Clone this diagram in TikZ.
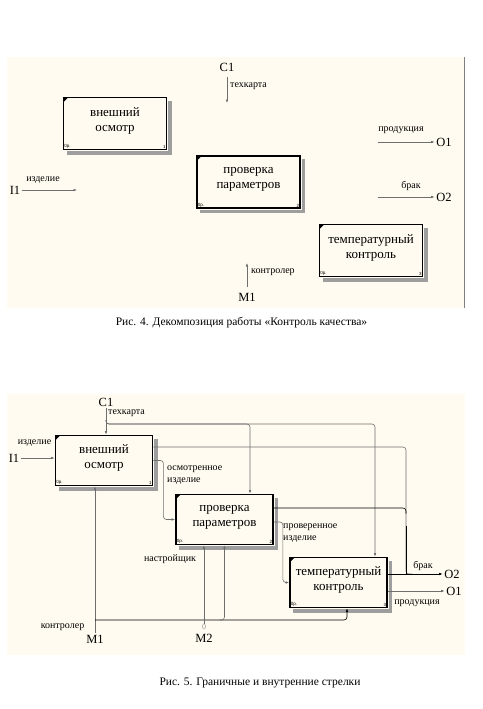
\documentclass[tikz,border=0pt]{standalone}
\usepackage{fontspec}
\setmainfont{Liberation Serif}
\newfontfamily\cornerfont{Liberation Sans}
\usetikzlibrary{arrows.meta,positioning,calc,patterns}
\definecolor{cream}{RGB}{255,251,240}
\definecolor{wire}{RGB}{110,110,110}
\tikzset{
  actbox/.style={
    rectangle, draw=black, line width=1.8pt, fill=cream,
    align=center, font=\fontsize{13}{15}\selectfont, inner sep=0pt,
    text depth=8pt,
    path picture={\fill[black] (path picture bounding box.north west)
      -- ++(4.5pt,0) -- ++(-4.5pt,-4.5pt) -- cycle;}
  },
  topsize/.style={minimum width=103pt, minimum height=52pt},
  botsize/.style={minimum width=97pt, minimum height=50pt},
  shade/.style={fill=black!38},
  corner/.style={font=\cornerfont\fontsize{4.5}{5}\selectfont, inner sep=1.5pt},
  actnum/.style={
    label={[corner, anchor=south west]south west:0р.},
    label={[corner, anchor=south east]south east:#1}
  },
  bnd/.style={font=\fontsize{12.5}{14}\selectfont, inner sep=1.5pt},
  lbl/.style={font=\fontsize{10}{12}\selectfont, inner sep=0pt, align=left},
  figcap/.style={font=\fontsize{11.5}{13}\selectfont, inner sep=0pt},
  tunl/.style={font=\cornerfont\fontsize{6}{6}\selectfont, text=gray, inner sep=0.5pt},
  ln/.style={draw=wire, line width=0.6pt},
  arr/.style={ln, -{Latex[length=3.5pt,width=2.6pt]}},
}
\begin{document}
\begin{tikzpicture}[x=1pt, y=-1pt]
  \useasboundingbox (0,0) rectangle (482,709);
  \fill[white] (0,0) rectangle (482,709);

  % ---- Fig. 4: decomposition ----
  \fill[cream] (7,57) rectangle (464,308);
  \draw[gray, line width=0.8pt] (464,57) -- (464,308);

  \node[actbox, topsize, actnum=1] (ta1) at (115,123.5) {внешний\\осмотр};
  \node[actbox, topsize, actnum=2] (ta2) at (248.5,182) {проверка\\параметров};
  \node[actbox, topsize, actnum=3] (ta3) at (371,250.5) {температурный\\контроль};

  \node[bnd] (tc1) at (227,67) {C1};
  \coordinate (tc1end) at (227,103);
  \draw[arr] ([yshift=-4pt]tc1.south) -- (tc1end);
  \node[lbl, anchor=west] (ttk) at (230,86) {техкарта};

  \node[bnd] (ti1) at (15,190) {I1};
  \coordinate (ti1end) at (77,190);
  \draw[arr] (ti1.east) -- (ti1end);
  \node[lbl] (tizd) at (43,180) {изделие};

  \node[bnd] (to1) at (444,142) {O1};
  \coordinate (to1start) at (378,142);
  \draw[arr] (to1start) -- (to1.west);
  \node[lbl] (tprod) at (401,130) {продукция};

  \node[bnd] (to2) at (444,197) {O2};
  \coordinate (to2start) at (378,197);
  \draw[arr] (to2start) -- (to2.west);
  \node[lbl] (tbrak) at (411,186) {брак};

  \node[bnd] (tm1) at (247,297) {M1};
  \coordinate (tm1end) at (247,263);
  \draw[arr] ([yshift=4pt]tm1.north) -- (tm1end);
  \node[lbl, anchor=west] (tktr) at (251,272) {контролер};

  \node[figcap] (cap4) at (241.5,323) {Рис. 4. Декомпозиция работы «Контроль качества»};

  % ---- Fig. 5: boundary and internal arrows ----
  \fill[cream] (7,394) rectangle (465,655);

  \node[actbox, botsize, actnum=1] (ba1) at (104,460.5) {внешний\\осмотр};
  \node[actbox, botsize, actnum=2] (ba2) at (224.5,519.5) {проверка\\параметров};
  \node[actbox, botsize, actnum=3] (ba3) at (338.5,582.5) {температурный\\контроль};

  % hatched shadows of the boxes
  \foreach \b in {ta1,ta2,ta3,ba1,ba2,ba3}{
    \fill[shade] ([xshift=0.9pt,yshift=-4pt]\b.north east) rectangle ([xshift=4.5pt,yshift=-4.5pt]\b.south east);
    \fill[shade] ([xshift=4pt,yshift=-0.9pt]\b.south west) rectangle ([xshift=4.5pt,yshift=-4.5pt]\b.south east);
  }

  % control
  \node[bnd] (bc1) at (106,402) {C1};
  \draw[arr] (bc1.south) -- (bc1.south |- ba1.north);
  \node[lbl, anchor=west] (btk) at (108,413) {техкарта};
  \coordinate (bctl) at (106,424);
  \draw[arr, rounded corners=3pt] ([yshift=4pt]bctl) -- (bctl) -| ([xshift=25.5pt]ba2.north);
  \draw[arr, rounded corners=3pt] ([yshift=4pt]bctl) -- (bctl) -| ([xshift=36.5pt]ba3.north);

  % input
  \node[bnd] (bi1) at (14,458) {I1};
  \draw[arr] (bi1.east) -- (bi1.east -| ba1.west);
  \node[lbl] (bizd) at (34.5,443) {изделие};

  % internal arrows
  \draw[arr, rounded corners=3pt] (ba1.east) -- ++(10,0) |- (ba2.west);
  \node[lbl, anchor=north west] (bosm) at (167,465.5) {осмотренное\\изделие};
  \draw[arr, rounded corners=3pt] ([yshift=-2.5pt]ba2.east) -- ++(9,0) |- (ba3.west);
  \node[lbl, anchor=north west] (bprv) at (283,523.5) {проверенное\\изделие};

  % outputs
  \coordinate (bbrak) at (406,574);
  \draw[ln, rounded corners=3pt] ([yshift=13.5pt]ba1.east) -| (bbrak) -- ([xshift=6pt]bbrak);
  \draw[ln, draw=black, rounded corners=3pt] ([yshift=11.5pt]ba2.east) -| ([yshift=6pt]ba2.east -| bbrak);
  \draw[ln, draw=black] ([yshift=-6pt]ba2.east -| bbrak) -- (bbrak);
  \node[bnd] (bo2) at (452,574) {O2};
  \draw[arr, draw=black] ([yshift=8.5pt]ba3.east) -- (bo2.west);
  \node[lbl] (bbr) at (423,566) {брак};
  \node[bnd] (bo1) at (454,591) {O1};
  \draw[arr] ([yshift=-8.5pt]ba3.east) -- (bo1.west);
  \node[lbl] (bprod) at (417,603) {продукция};

  % mechanisms
  \node[bnd] (bm1) at (95,639) {M1};
  \draw[arr] (bm1.north) -- (bm1.north |- ba1.south);
  \node[lbl] (bktr) at (62.5,627) {контролер};
  \coordinate (bmech) at (95,620);
  \draw[arr, draw=black, rounded corners=3pt] (bmech) -| ([xshift=8.5pt]ba3.south);
  \draw[arr, rounded corners=3pt] ([xshift=-5pt]bmech -| ba2.south) -| (ba2.south);

  \node[bnd] (bm2) at (204,638) {M2};
  \node[tunl] (bm2t) at (204,627) {()};
  \draw[arr] (bm2t.north) -- (bm2t.north |- ba2.south);
  \node[lbl] (bnst) at (170,559) {настройщик};

  \node[figcap] (cap5) at (260,683) {Рис. 5. Граничные и внутренние стрелки};
\end{tikzpicture}
\end{document}
